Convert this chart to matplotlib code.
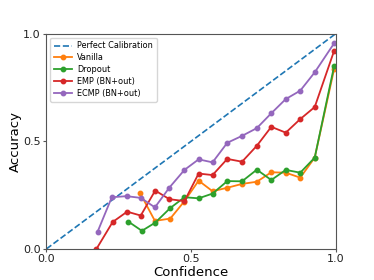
import numpy as np
import matplotlib
matplotlib.use('Agg')
import matplotlib.pyplot as plt

plt.rcParams['font.family'] = 'DejaVu Sans'
plt.rcParams['axes.edgecolor'] = '#555555'
plt.rcParams['xtick.color'] = '#555555'
plt.rcParams['ytick.color'] = '#555555'
plt.rcParams['xtick.labelcolor'] = '#222222'
plt.rcParams['ytick.labelcolor'] = '#222222'

# reliability diagram values
conf_vanilla = [0.323, 0.375, 0.428, 0.476, 0.526, 0.574, 0.625, 0.676, 0.727, 0.777, 0.827, 0.877, 0.927, 0.994]
acc_vanilla = [0.261, 0.130, 0.141, 0.220, 0.317, 0.268, 0.284, 0.302, 0.312, 0.356, 0.354, 0.331, 0.424, 0.835]

conf_dropout = [0.283, 0.330, 0.376, 0.428, 0.477, 0.526, 0.574, 0.625, 0.676, 0.727, 0.777, 0.827, 0.877, 0.927, 0.994]
acc_dropout = [0.127, 0.084, 0.122, 0.190, 0.240, 0.235, 0.257, 0.315, 0.314, 0.368, 0.320, 0.367, 0.354, 0.424, 0.849]

conf_emp = [0.173, 0.229, 0.279, 0.326, 0.376, 0.425, 0.477, 0.526, 0.574, 0.625, 0.676, 0.727, 0.777, 0.827, 0.877, 0.927, 0.994]
acc_emp = [0.0, 0.125, 0.173, 0.155, 0.271, 0.231, 0.222, 0.350, 0.343, 0.418, 0.405, 0.479, 0.567, 0.540, 0.603, 0.659, 0.920]

conf_ecmp = [0.177, 0.226, 0.277, 0.326, 0.375, 0.425, 0.477, 0.526, 0.574, 0.625, 0.676, 0.727, 0.777, 0.827, 0.877, 0.927, 0.994]
acc_ecmp = [0.080, 0.240, 0.245, 0.237, 0.193, 0.285, 0.367, 0.416, 0.402, 0.493, 0.525, 0.561, 0.630, 0.696, 0.735, 0.820, 0.955]

fig = plt.figure(figsize=(3.74, 2.8), dpi=100)
ax = fig.add_axes([0.124, 0.111, 0.774, 0.769])

ax.plot([0, 1], [0, 1], '--', color='C0', lw=1.2, label='Perfect Calibration')
ax.plot(conf_vanilla, acc_vanilla, '-o', color='C1', lw=1.3, ms=3.2, label='Vanilla')
ax.plot(conf_dropout, acc_dropout, '-o', color='C2', lw=1.3, ms=3.2, label='Dropout')
ax.plot(conf_emp, acc_emp, '-o', color='C3', lw=1.3, ms=3.2, label='EMP (BN+out)')
ax.plot(conf_ecmp, acc_ecmp, '-o', color='C4', lw=1.3, ms=3.2, label='ECMP (BN+out)')

ax.set_xlim(0, 1)
ax.set_ylim(0, 1)
ax.set_xticks([0, 0.5, 1.0])
ax.set_yticks([0, 0.5, 1.0])
ax.tick_params(labelsize=8, length=2.5, width=0.8, pad=1.5)
ax.set_xlabel('Confidence', fontsize=9.5, labelpad=1)
ax.set_ylabel('Accuracy', fontsize=9.5, labelpad=1)
ax.legend(loc='upper left', fontsize=5.9, handlelength=2.2, borderpad=0.45,
          labelspacing=0.35, handletextpad=0.6)

fig.savefig('out.png', dpi=100)
